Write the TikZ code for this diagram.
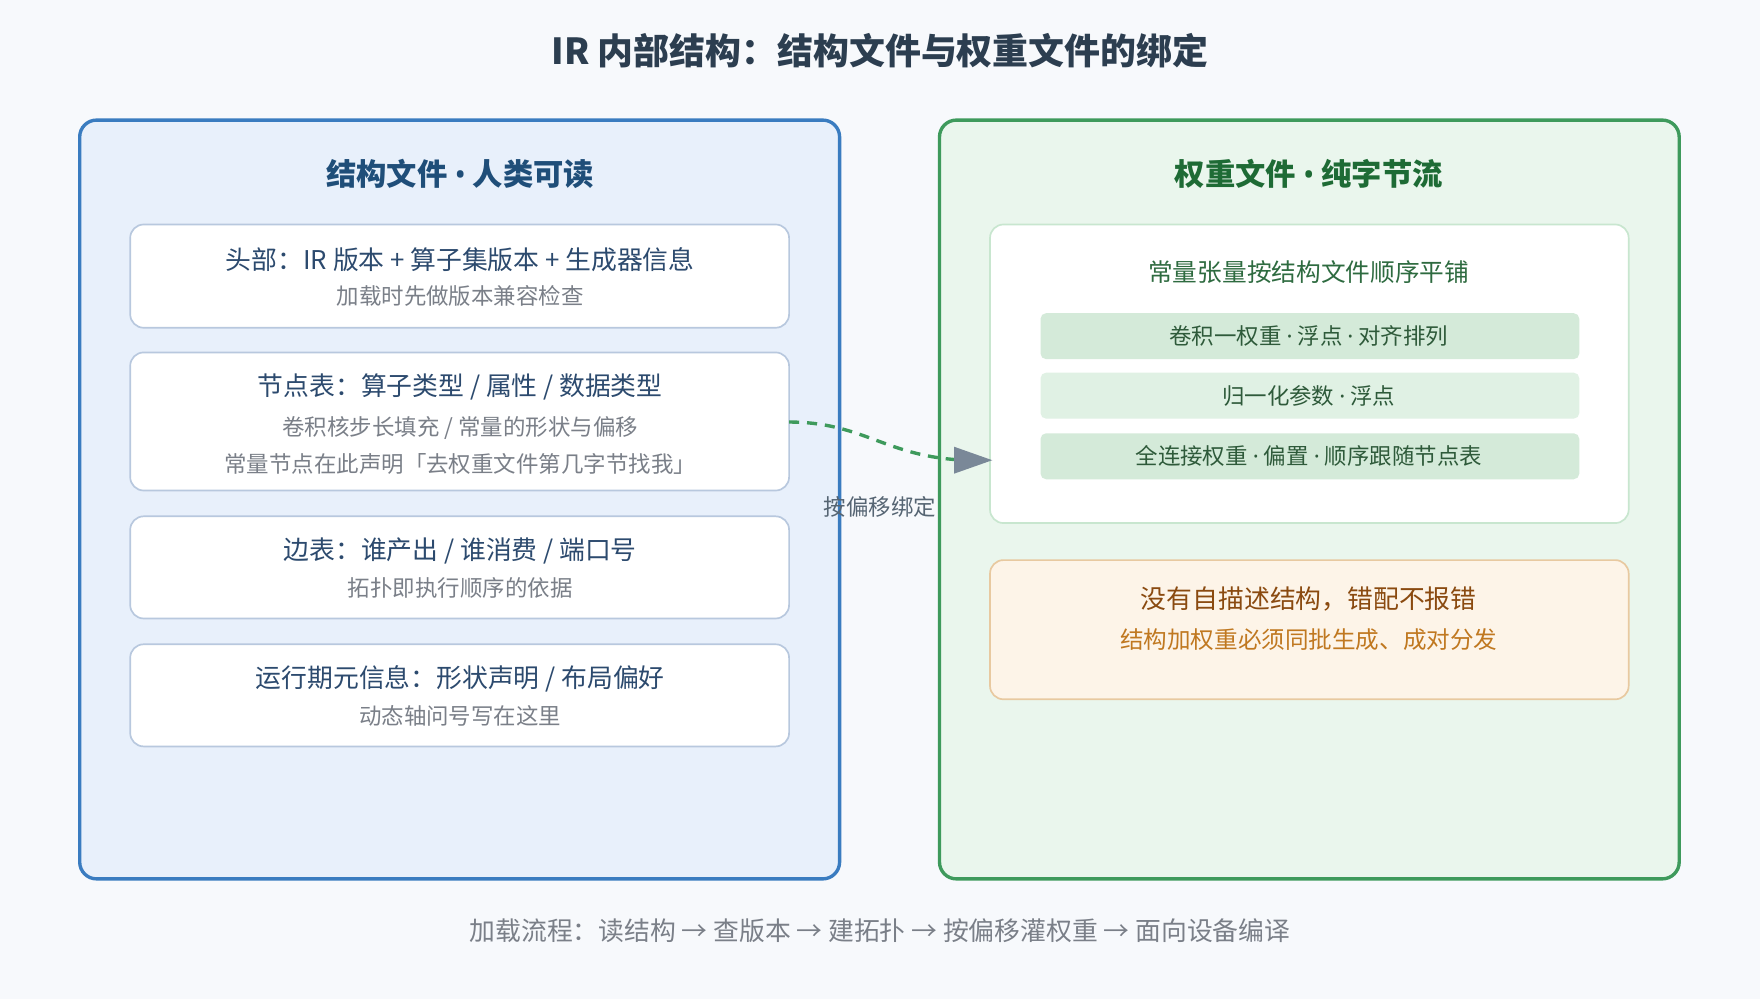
\documentclass[tikz,border=0pt]{standalone}
\usepackage{fontspec}
\setmainfont{Noto Sans CJK SC}
\newfontfamily\latf{Noto Sans}
\newcommand\md{{\latf ·}}
\newcommand\bu{{\latf •}}
\usetikzlibrary{arrows.meta}
\definecolor{bg}{HTML}{F7F9FC}
\definecolor{titlec}{HTML}{2C3E50}
\definecolor{lfill}{HTML}{E8F0FB}
\definecolor{lborder}{HTML}{3A7CC0}
\definecolor{lhead}{HTML}{1F4E79}
\definecolor{boxb}{HTML}{B8C8DE}
\definecolor{maint}{HTML}{2C4A6E}
\definecolor{subt}{HTML}{7A7F88}
\definecolor{rfill}{HTML}{EAF6ED}
\definecolor{rborder}{HTML}{3E9A5C}
\definecolor{rhead}{HTML}{1E6B35}
\definecolor{rboxb}{HTML}{C8E6CF}
\definecolor{rtext}{HTML}{2E6B40}
\definecolor{bar1}{HTML}{D4EAD9}
\definecolor{bar2}{HTML}{E0F1E4}
\definecolor{bartext}{HTML}{2E5A3A}
\definecolor{ofill}{HTML}{FDF4E8}
\definecolor{oborder}{HTML}{E8C9A0}
\definecolor{omain}{HTML}{8A4A10}
\definecolor{osub}{HTML}{C07820}
\definecolor{arrowc}{HTML}{7A8898}
\begin{document}
\begin{tikzpicture}[x=1pt,y=-1pt,
  panel/.style={rounded corners=15pt,line width=3pt},
  card/.style={rounded corners=12pt,line width=1.5pt,draw=boxb,fill=white},
  bar/.style={rounded corners=5pt},
  mt/.style={font=\fontsize{23}{27}\selectfont,text=maint},
  st/.style={font=\fontsize{20}{24}\selectfont,text=subt},
  bt/.style={font=\fontsize{20}{24}\selectfont,text=bartext}]
\fill[bg] (0,0) rectangle (1568,890);
\useasboundingbox (0,0) rectangle (1568,890);
\node[font=\fontsize{32}{37}\selectfont\bfseries,text=titlec] (title) at (784,45) {IR 内部结构：结构文件与权重文件的绑定};
% left
\draw[panel,draw=lborder,fill=lfill] (71,107) rectangle (748,783);
\node[font=\fontsize{27}{31}\selectfont\bfseries,text=lhead] (lh) at (410,155) {结构文件 \bu{} 人类可读};
\draw[card] (116,200) rectangle (703,292);
\node[mt] (a1) at (410,231) {头部：IR 版本 + 算子集版本 + 生成器信息};
\node[st] (a2) at (410,264) {加载时先做版本兼容检查};
\draw[card] (116,314) rectangle (703,437);
\coordinate (bR) at (703,376);
\node[mt] (b1) at (410,345) {节点表：算子类型 / 属性 / 数据类型};
\node[st] (b2) at (410,381) {卷积核步长填充 / 常量的形状与偏移};
\node[st] (b3) at (410,413) {常量节点在此声明「去权重文件第几字节找我」};
\draw[card] (116,460) rectangle (703,551);
\node[mt] (c1) at (410,491) {边表：谁产出 / 谁消费 / 端口号};
\node[st] (c2) at (410,524) {拓扑即执行顺序的依据};
\draw[card] (116,574) rectangle (703,665);
\node[mt] (d1) at (410,605) {运行期元信息：形状声明 / 布局偏好};
\node[st] (d2) at (410,638) {动态轴问号写在这里};
% right
\draw[panel,draw=rborder,fill=rfill] (837,107) rectangle (1496,783);
\node[font=\fontsize{27}{31}\selectfont\bfseries,text=rhead] (rh) at (1166,155) {权重文件 \bu{} 纯字节流};
\draw[card,draw=rboxb] (882,200) rectangle (1451,466);
\coordinate (wL) at (884,410);
\node[font=\fontsize{22}{26}\selectfont,text=rtext] (w0) at (1166,242) {常量张量按结构文件顺序平铺};
\fill[bar,bar1] (927,279) rectangle (1407,320);
\node[bt] (w1) at (1166,299.5) {卷积一权重 \md{} 浮点 \md{} 对齐排列};
\fill[bar,bar2] (927,332) rectangle (1407,373);
\node[bt] (w2) at (1166,352.5) {归一化参数 \md{} 浮点};
\fill[bar,bar1] (927,386) rectangle (1407,427);
\node[bt] (w3) at (1166,406.5) {全连接权重 \md{} 偏置 \md{} 顺序跟随节点表};
\draw[card,draw=oborder,fill=ofill] (882,499) rectangle (1451,623);
\node[font=\fontsize{23}{27}\selectfont,text=omain] (o1) at (1166,534) {没有自描述结构，错配不报错};
\node[font=\fontsize{21}{25}\selectfont,text=osub] (o2) at (1166,570) {结构加权重必须同批生成、成对分发};
% arrow
\draw[rborder,line width=3pt,dash pattern=on 9pt off 7pt] (bR) .. controls (770,376) and (790,408) .. (862,410);
\fill[arrowc] (wL) -- (850,398) -- (850,422) -- cycle;
\node[font=\fontsize{20}{24}\selectfont,text=titlec!80] (lbl) at (784,452) {按偏移绑定};
% footer
\node[font=\fontsize{23}{27}\selectfont,text=subt] (foot) at (784,829) {加载流程：读结构 → 查版本 → 建拓扑 → 按偏移灌权重 → 面向设备编译};
\end{tikzpicture}
\end{document}
